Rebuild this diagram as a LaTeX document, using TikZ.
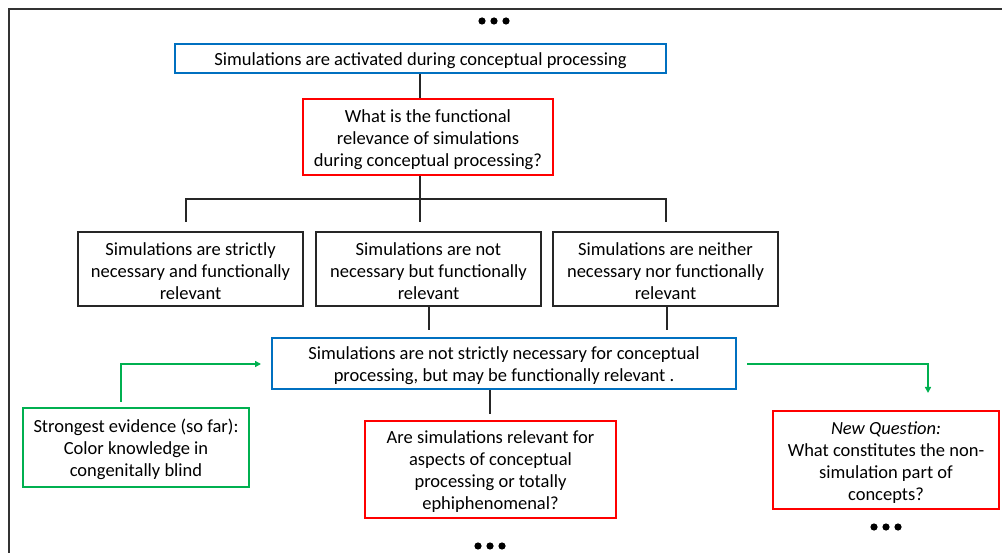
\documentclass[tikz,border=0pt]{standalone}
\usepackage{fontspec}
\setmainfont{Carlito}
\usetikzlibrary{arrows.meta}
\definecolor{bblue}{RGB}{0,112,192}
\definecolor{rred}{RGB}{255,0,0}
\definecolor{ggreen}{RGB}{0,176,80}
\definecolor{fgray}{RGB}{50,50,50}
\newcommand{\topstrut}{\rule{0pt}{17.5pt}}
\tikzset{
  box/.style={draw, line width=2pt, align=center, inner sep=0pt,
    font=\fontsize{18.5}{22}\selectfont},
  bluebox/.style={box, draw=bblue},
  redbox/.style={box, draw=rred},
  blackbox/.style={box, draw=black!85},
  greenbox/.style={box, draw=ggreen},
  conn/.style={line width=1.6pt, draw=black!85},
  garrow/.style={line width=1.6pt, draw=ggreen, -{Triangle[length=6pt,width=6pt]}},
  dot/.style={fill=black}
}
\begin{document}
\begin{tikzpicture}[x=1pt,y=-1pt]
\useasboundingbox (0,0) rectangle (1002,553);
% frame
\draw[line width=2pt, fgray] (9,553) -- (9,9) -- (1002,9);
% dots
\foreach \x in {482,494,506} \fill[dot] (\x,21) circle (3.6);
\foreach \x in {478,490,502} \fill[dot] (\x,546) circle (3.6);
\foreach \x in {874,886,898} \fill[dot] (\x,527) circle (3.6);

\node[bluebox, minimum width=491pt, minimum height=29pt] (top) at (420.5,58.5)
  {\topstrut Simulations are activated during conceptual processing};
\node[redbox, minimum width=250pt, minimum height=76pt] (q1) at (428,137)
  {\topstrut What is the functional\\relevance of simulations\\during conceptual processing?};
\node[blackbox, minimum width=225pt, minimum height=74pt] (b1) at (190.5,269)
  {\topstrut Simulations are strictly\\necessary and functionally\\relevant};
\node[blackbox, minimum width=225pt, minimum height=74pt] (b2) at (428.5,269)
  {\topstrut Simulations are not\\necessary but functionally\\relevant};
\node[blackbox, minimum width=225pt, minimum height=74pt] (b3) at (665.5,269)
  {\topstrut Simulations are neither\\necessary nor functionally\\relevant};
\node[bluebox, minimum width=464pt, minimum height=51pt] (mid) at (504,363.5)
  {\topstrut Simulations are not strictly necessary for conceptual\\processing, but may be functionally relevant .};
\node[greenbox, minimum width=226pt, minimum height=79pt] (ev) at (136,447.5)
  {\topstrut Strongest evidence (so far):\\Color knowledge in\\congenitally blind};
\node[redbox, minimum width=251pt, minimum height=97pt] (q2) at (490.5,469.5)
  {\topstrut Are simulations relevant for\\aspects of conceptual\\processing or totally\\ephiphenomenal?};
\node[redbox, minimum width=226pt, minimum height=98pt] (q3) at (886,460)
  {\topstrut\textit{New Question:}\\What constitutes the non-\\simulation part of\\concepts?};

% coordinates for free ends
\coordinate (hl) at (186,199);
\coordinate (hm) at (420,199);
\coordinate (hr) at (666,199);
\coordinate (dl) at (186,222);
\coordinate (dm) at (420,222);
\coordinate (dr) at (666,222);
\coordinate (e2) at (429,330);
\coordinate (e3) at (667,330);
\coordinate (em) at (490,414);
\coordinate (gs) at (121,402);
\coordinate (gc) at (121,364);
\coordinate (gt) at (261,364);
\coordinate (rs) at (747,364);
\coordinate (rc) at (928,364);
\coordinate (rt) at (928,393);

\draw[conn] (top.south -| hm) -- (q1.north -| hm);
\draw[conn] (q1.south -| hm) -- (dm);
\draw[conn] (dl) -- (hl) -- (hr) -- (dr);
\draw[conn] (b2.south -| e2) -- (e2);
\draw[conn] (b3.south -| e3) -- (e3);
\draw[conn] (mid.south -| em) -- (em);
\draw[garrow] (gs) -- (gc) -- (gt);
\draw[garrow] (rs) -- (rc) -- (rt);
\end{tikzpicture}
\end{document}
